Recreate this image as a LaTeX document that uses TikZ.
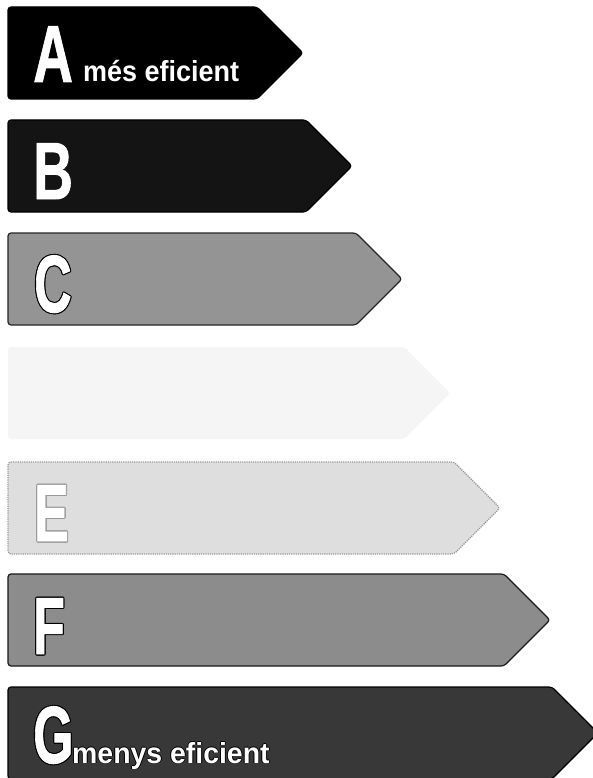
\documentclass[tikz,border=0pt]{standalone}
\usepackage{fontspec}
\setmainfont{Liberation Sans}
\newfontfamily\heavyfont[FakeBold=1.2]{Liberation Sans Bold}
\newcommand\energybar[4]{% top y, tip x, fill, style
  \path[rounded corners=3pt, line width=1.2pt, fill=#3, #4]
    (8,#1) -- ({#2-46},#1) -- (#2,{#1+46}) -- ({#2-46},{#1+92}) -- (8,{#1+92}) -- cycle;}
\newcommand\bigletter[2][0.64]{\scalebox{#1}[1]{\fontsize{81}{81}\selectfont\heavyfont #2}}
\newcommand\outlinedletter[4]{% name, x, y, letter ; outline colour from \olcol
  \foreach \dx/\dy in {-1.1/0,1.1/0,0/-1.1,0/1.1,-0.8/-0.8,0.8/0.8,-0.8/0.8,0.8/-0.8}
    \node[lettr, text=\olcol, xshift=\dx pt, yshift=\dy pt] at (#2,#3) {\bigletter{#4}};
  \node[lettr, text=white] (#1) at (#2,#3) {\bigletter{#4}};}
\begin{document}
\begin{tikzpicture}[x=1pt, y=-1pt,
  lettr/.style={anchor=base west, inner sep=0pt},
  caption/.style={anchor=base west, inner sep=0pt, text=white, font=\fontsize{29}{29}\selectfont\bfseries}]
\useasboundingbox (0,0) rectangle (593,778);
\clip (0,0) rectangle (593,778);
\fill[white] (0,0) rectangle (593,778);
% bars
\energybar{7}{303}{black}{draw=black}
\energybar{120}{352}{black!92}{draw=black}
\energybar{233}{402}{black!42}{draw=black!85}
\energybar{347}{450}{black!4}{draw=none}
\energybar{462}{500}{black!13}{draw=black!40, densely dotted}
\energybar{574}{550}{black!45}{draw=black!90}
\energybar{687}{598}{black!78}{draw=black}
% letters
\node[lettr, text=white] (A) at (33,82) {\bigletter[0.68]{A}};
\node[caption] (Atext) at (83,82) {\scalebox{0.93}[1]{més eficient}};
\node[lettr, text=white] (B) at (33,199) {\bigletter[0.68]{B}};
\def\olcol{black}
\outlinedletter{C}{34}{312}{C}
\def\olcol{black!40}
\outlinedletter{E}{34}{541}{E}
\def\olcol{black}
\outlinedletter{F}{33}{654}{F}
\outlinedletter{G}{33}{763}{G}
\foreach \dx/\dy in {-0.9/0,0.9/0,0/-0.9,0/0.9}
  \node[caption, text=black, xshift=\dx pt, yshift=\dy pt] at (72,763) {\scalebox{0.98}[1]{menys eficient}};
\node[caption] (Gtext) at (72,763) {\scalebox{0.98}[1]{menys eficient}};
\end{tikzpicture}
\end{document}
